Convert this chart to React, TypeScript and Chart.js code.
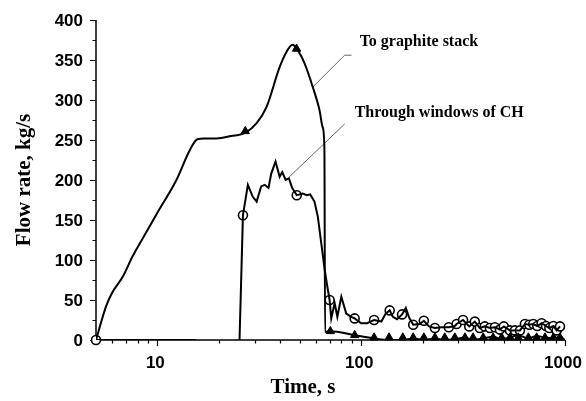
import React, { useEffect, useRef } from "react";
import { Chart, registerables } from "chart.js";

Chart.register(...registerables);

// "To graphite stack" line
const graphiteTime = [5, 5.2, 5.6, 6.0, 6.76, 7.54, 8.47, 10, 12.4, 14.4, 15.7, 17, 19.5, 23, 27, 30.7, 34.3, 39.8, 43, 46, 48.9, 52.7, 57.9, 62.5, 64.7, 66, 66.5, 70.6, 92.9, 116, 137, 160, 180, 203, 230, 257, 288, 323, 354, 397, 444, 489, 537, 590, 661, 726, 798, 877, 945, 1000];
const graphiteFlow = [0, 15, 42, 59, 79, 104, 127, 159, 200, 237, 251, 252, 252, 255, 259, 271, 291, 341, 360, 369, 362, 346, 316, 287, 266, 240, 10, 11, 6, 2, 0, 0, 2, 0, 2, 0, 1, 3, 0, 2, 4, 1, 3, 6, 2, 5, 3, 2, 4, 0];

// triangle markers of "To graphite stack"
const graphiteMarkTime = [27, 48.2, 70.6, 92.9, 115.7, 137, 160, 180, 203, 230, 257, 288, 323, 354, 397, 444, 489, 537, 590, 661, 726, 798, 877, 945];
const graphiteMarkFlow = [261, 364, 11, 6, 3, 3, 3, 3, 3, 3, 3, 3, 3, 3, 3, 3, 3, 3, 3, 3, 3, 3, 3, 3];

// "Through windows of CH" line
const chTime = [5, 15.5, 20, 25.3, 26.3, 27.8, 29.4, 30.7, 32.3, 33.6, 35.1, 36.2, 38.0, 39.8, 41.0, 42.6, 44.2, 45.9, 48.3, 51.7, 54.1, 56.2, 59.0, 61.3, 63.7, 66.2, 68.2, 70.0, 71.3, 74.1, 76.4, 79.9, 84.5, 89.3, 92.9, 100, 106.8, 115.7, 125.6, 131.9, 138, 143, 150, 158.7, 165.6, 171.9, 180, 194, 203, 215, 230, 248, 269, 288, 294, 316, 339, 361, 382, 404, 428, 453, 479, 501, 537, 568, 601, 636, 668, 699, 731, 768, 807, 838, 877, 910, 945];
const chFlow: (number | null)[] = [0, 0, null, 0, 156, 194, 179, 173, 192, 194, 190, 208, 223, 204, 210, 200, 202, 190, 181, 183, 181, 182, 173, 154, 121, 88, 67, 50, 27, 46, 29, 54, 33, 29, 27, 21, 21, 25, 23, 33, 37, 29, 26, 32, 40, 28, 19, 20, 24, 17, 15, 16, 16, 17.5, 20, 25, 17, 23, 15, 17, 15, 16, 13, 17, 12, 12, 12, 20, 19, 20, 17.5, 21, 17.5, 15, 17.5, 12, 17];

// open circle markers of "Through windows of CH"
const chMarkTime = [5, 26.3, 48.3, 70, 92.9, 115.7, 138, 158.7, 180, 203, 230, 269, 294, 316, 339, 361, 382, 404, 428, 453, 479, 501, 537, 568, 601, 636, 668, 699, 731, 768, 807, 838, 877, 910, 945];
const chMarkFlow = [0, 156, 181, 50, 27, 25, 37, 32, 19, 24, 15, 16, 20, 25, 17, 23, 15, 17, 15, 16, 13, 17, 12, 12, 12, 20, 19, 20, 17.5, 21, 17.5, 15, 17.5, 12, 17];

// axis ticks
const yMajorTicks = [0, 50, 100, 150, 200, 250, 300, 350, 400];
const yMinorTicks = [25, 75, 125, 175, 225, 275, 325, 375];
const xMajorTicks = [10, 100, 1000];
const xTickLabels = ["10", "100", "1000"];
const xMinorTicks = [6, 7, 8, 9, 20, 30, 40, 50, 60, 70, 80, 90, 200, 300, 400, 500, 600, 700, 800, 900];

// annotations (data coordinates)
const labelGraphite = "To graphite stack";
const labelCH = "Through windows of CH";
const leaderGraphite = [[57.8, 316], [83, 356], [89.7, 356]];
const leaderCH = [[43.6, 202], [83, 270]];
const labelGraphitePos = [98.3, 372.5];
const labelCHPos = [92.9, 284];

const xTitle = "Time, s";
const yTitle = "Flow rate, kg/s";

function zip(xs: number[], ys: (number | null)[]) {
  return xs.map((x, i) => ({ x, y: ys[i] }));
}

export default function App() {
  const ref = useRef<HTMLCanvasElement>(null);
  useEffect(() => {
    if (!ref.current) return;
    const decor = {
      id: "decor",
      beforeDatasetsDraw(chart: any) {
        const { ctx, chartArea } = chart;
        const xs = chart.scales.x;
        const ys = chart.scales.y;
        ctx.save();
        ctx.strokeStyle = "#000";
        ctx.lineWidth = 1.5;
        ctx.beginPath();
        ctx.moveTo(chartArea.left, chartArea.top);
        ctx.lineTo(chartArea.left, chartArea.bottom);
        ctx.lineTo(chartArea.right, chartArea.bottom);
        ctx.stroke();
        ctx.lineWidth = 1.2;
        ctx.beginPath();
        yMajorTicks.forEach((v) => {
          const p = Math.round(ys.getPixelForValue(v)) + 0.5;
          ctx.moveTo(chartArea.left - 6, p);
          ctx.lineTo(chartArea.left, p);
        });
        yMinorTicks.forEach((v) => {
          const p = Math.round(ys.getPixelForValue(v)) + 0.5;
          ctx.moveTo(chartArea.left - 3.5, p);
          ctx.lineTo(chartArea.left, p);
        });
        xMajorTicks.forEach((v) => {
          const p = Math.round(xs.getPixelForValue(v)) + 0.5;
          ctx.moveTo(p, chartArea.bottom);
          ctx.lineTo(p, chartArea.bottom + 6);
        });
        xMinorTicks.forEach((v) => {
          const p = Math.round(xs.getPixelForValue(v)) + 0.5;
          ctx.moveTo(p, chartArea.bottom);
          ctx.lineTo(p, chartArea.bottom + 3.5);
        });
        ctx.stroke();

        // leader lines
        ctx.strokeStyle = "#666";
        ctx.lineWidth = 1;
        [leaderGraphite, leaderCH].forEach((pts) => {
          ctx.beginPath();
          pts.forEach(([t, v], i) => {
            const px = xs.getPixelForValue(t);
            const py = ys.getPixelForValue(v);
            if (i === 0) ctx.moveTo(px, py);
            else ctx.lineTo(px, py);
          });
          ctx.stroke();
        });
        ctx.restore();
      },
      afterDraw(chart: any) {
        const { ctx, chartArea } = chart;
        const xs = chart.scales.x;
        const ys = chart.scales.y;
        ctx.save();
        ctx.fillStyle = "#000";
        ctx.font = "bold 17px 'Liberation Sans', Arial, sans-serif";
        ctx.textAlign = "right";
        ctx.textBaseline = "middle";
        yMajorTicks.forEach((v) => {
          ctx.fillText(String(v), chartArea.left - 13, ys.getPixelForValue(v) + 1);
        });
        ctx.textAlign = "center";
        xMajorTicks.forEach((v, i) => {
          ctx.fillText(xTickLabels[i], xs.getPixelForValue(v) - 2, chartArea.bottom + 23);
        });

        ctx.font = "bold 21px 'Liberation Serif', 'Times New Roman', serif";
        ctx.fillText(xTitle, 303, chartArea.bottom + 48);
        ctx.save();
        ctx.translate(25, 180);
        ctx.rotate(-Math.PI / 2);
        ctx.fillText(yTitle, 0, 0);
        ctx.restore();

        ctx.font = "bold 16px 'Liberation Serif', 'Times New Roman', serif";
        ctx.textAlign = "left";
        ctx.fillText(labelGraphite, xs.getPixelForValue(labelGraphitePos[0]), ys.getPixelForValue(labelGraphitePos[1]));
        ctx.fillText(labelCH, xs.getPixelForValue(labelCHPos[0]), ys.getPixelForValue(labelCHPos[1]));
        ctx.restore();
      },
    };

    const chart = new Chart(ref.current, {
      type: "line",
      data: {
        datasets: [
          {
            label: labelGraphite,
            data: zip(graphiteTime, graphiteFlow),
            borderColor: "#000",
            borderWidth: 2,
            pointRadius: 0,
            cubicInterpolationMode: "monotone",
            fill: false,
          },
          {
            label: labelCH,
            data: zip(chTime, chFlow),
            borderColor: "#000",
            borderWidth: 2,
            pointRadius: 0,
            tension: 0,
            spanGaps: false,
            fill: false,
          },
          {
            label: labelGraphite + " markers",
            data: zip(graphiteMarkTime, graphiteMarkFlow),
            showLine: false,
            pointStyle: "triangle",
            pointRadius: 4.8,
            pointBackgroundColor: "#000",
            pointBorderColor: "#000",
            pointBorderWidth: 1,
            clip: false as any,
          },
          {
            label: labelCH + " markers",
            data: zip(chMarkTime, chMarkFlow),
            showLine: false,
            pointStyle: "circle",
            pointRadius: 4.5,
            pointBackgroundColor: "#fff",
            pointBorderColor: "#000",
            pointBorderWidth: 1.6,
            clip: false as any,
          },
        ],
      },
      options: {
        responsive: false,
        animation: false,
        layout: { padding: { left: 96, right: 21, top: 20, bottom: 61 } },
        plugins: { legend: { display: false }, tooltip: { enabled: false } },
        scales: {
          x: { type: "logarithmic", min: 5, max: 1000, display: false },
          y: { type: "linear", min: 0, max: 400, display: false },
        },
      },
      plugins: [decor],
    });
    return () => chart.destroy();
  }, []);
  return (
    <div style={{ position: "fixed", left: 0, top: 0, width: 586, height: 401, background: "#fff" }}>
      <canvas ref={ref} width={586} height={401} style={{ width: 586, height: 401 }} />
    </div>
  );
}
